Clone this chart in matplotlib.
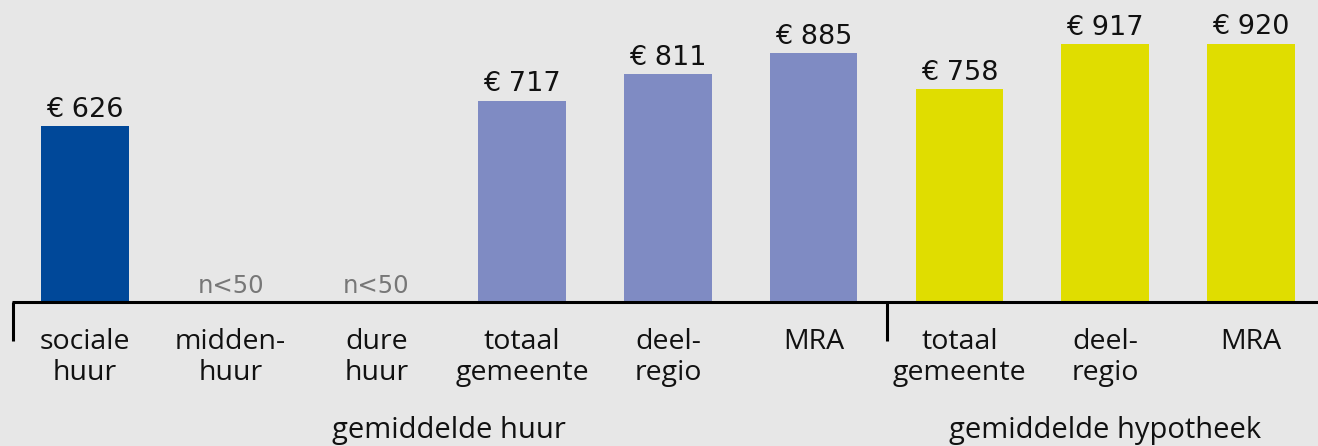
import matplotlib.pyplot as plt
import matplotlib.transforms as mtransforms

categories = ['sociale\nhuur', 'midden-\nhuur', 'dure\nhuur', 'totaal\ngemeente', 'deel-\nregio', 'MRA',
              'totaal\ngemeente', 'deel-\nregio', 'MRA']
values = [626, None, None, 717, 811, 885, 758, 917, 920]
bar_colors = ['#004899', '#7f8bc3', '#7f8bc3', '#7f8bc3', '#7f8bc3', '#7f8bc3',
              '#e0dd00', '#e0dd00', '#e0dd00']
groups = ['gemiddelde huur', 'gemiddelde hypotheek']
group_centers = [2.5, 7]
group_edges = [-0.49, 5.5]

bg = '#e7e7e7'
fig = plt.figure(figsize=(13.18, 4.46), dpi=100, facecolor=bg)
ax = fig.add_axes([12 / 1318, 144 / 446, 1 - 12 / 1318, 302 / 446])
ax.set_facecolor(bg)

for i, v in enumerate(values):
    if v is None:
        ax.text(i, 14, 'n<50', ha='center', va='bottom', fontsize=17.5, color='#777777')
        continue
    ax.bar(i, v, width=0.6, color=bar_colors[i])
    ax.text(i, v + 12, '€ ' + str(v), ha='center', va='bottom', fontsize=19.5, color='#111111')

ax.set_xlim(-0.5, 8.46)
ax.set_ylim(0, 1075)
for s in ['top', 'right', 'left', 'bottom']:
    ax.spines[s].set_visible(False)
ax.set_xticks([])
ax.set_yticks([])

trans = mtransforms.blended_transform_factory(ax.transData, ax.transAxes)
ax.plot([-0.5, 8.46], [0, 0], transform=trans, color='black', lw=2.2, clip_on=False,
        solid_capstyle='butt')
for e in group_edges:
    ax.plot([e, e], [0, -0.13], transform=trans, color='black', lw=2.2, clip_on=False,
            solid_capstyle='butt')

for i, c in enumerate(categories):
    ax.text(i, -0.085, c, transform=trans, ha='center', va='top', fontsize=20.5,
            family='Open Sans', color='#111111', linespacing=1.17)

for g, x in zip(groups, group_centers):
    ax.text(x, -0.472, g, transform=trans, ha='center', va='bottom', fontsize=21,
            family='Open Sans', color='#111111')

fig.savefig('out.png', dpi=100, facecolor=bg)
